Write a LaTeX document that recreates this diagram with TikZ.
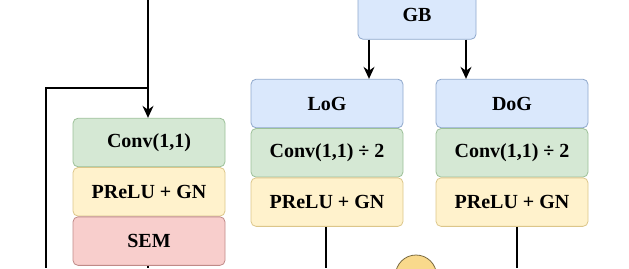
\documentclass[tikz,border=0pt]{standalone}
\usepackage{fontspec}
\setmainfont{Liberation Serif}
\usepackage{tikz}
\usetikzlibrary{arrows.meta, positioning}
\definecolor{bluefill}{HTML}{DAE8FC}
\definecolor{blueline}{HTML}{8FA8CC}
\definecolor{greenfill}{HTML}{D5E8D4}
\definecolor{greenline}{HTML}{9CC098}
\definecolor{yellowfill}{HTML}{FFF2CC}
\definecolor{yellowline}{HTML}{DCC68A}
\definecolor{redfill}{HTML}{F8CECC}
\definecolor{redline}{HTML}{C08A88}
\definecolor{opfill}{HTML}{F9D98C}
\definecolor{opline}{HTML}{7A6A40}

\begin{document}
\begin{tikzpicture}[
    x=1pt, y=-1pt,
    block/.style={
        rectangle, rounded corners=5pt, line width=0.8pt,
        minimum width=152pt, minimum height=48.5pt,
        inner sep=0pt, font=\fontsize{20}{22}\selectfont\bfseries
    },
    gauss/.style={block, fill=bluefill, draw=blueline},
    conv/.style={block, fill=greenfill, draw=greenline},
    act/.style={block, fill=yellowfill, draw=yellowline},
    sem/.style={block, fill=redfill, draw=redline},
    arr/.style={-{Stealth[length=12pt, width=11pt]}, line width=1.7pt},
    line/.style={line width=1.7pt},
    node distance=0pt
]
\clip (0,0) rectangle (629,268);

% GB
\node[gauss, minimum width=118pt] (gb) at (417,15) {GB};

% left branch
\node[conv] (conva) at (149,142.5) {Conv(1,1)};
\node[act, below=of conva] (acta) {PReLU + GN};
\node[sem, below=of acta] (sema) {SEM};

% LoG branch
\node[gauss] (log) at (327,103.5) {LoG};
\node[conv, below=of log] (convb) {Conv(1,1) ÷ 2};
\node[act, below=of convb] (actb) {PReLU + GN};

% DoG branch
\node[gauss] (dog) at (512,103.5) {DoG};
\node[conv, below=of dog] (convc) {Conv(1,1) ÷ 2};
\node[act, below=of convc] (actc) {PReLU + GN};

% operator
\node[circle, draw=opline, fill=opfill, line width=0.8pt,
      minimum size=41pt, inner sep=0pt] (op) at (416,275.5) {};

% free ends
\coordinate (in) at (148,0);
\coordinate (split) at (148,88);
\coordinate (skip) at (46,268);
\coordinate (outa) at (148,268);
\coordinate (outb) at (326,268);
\coordinate (outc) at (517,268);

% Arrows
\draw[arr] (in) -- (in |- conva.north);
\draw[line] (split) -| (skip);
\draw[line] (sema.south -| outa) -- (outa);
\draw[arr] ([xshift=-48pt]gb.south) -- ([xshift=-48pt]gb.south |- log.north);
\draw[arr] ([xshift=49pt]gb.south) -- ([xshift=49pt]gb.south |- dog.north);
\draw[line] (actb.south -| outb) -- (outb);
\draw[line] (actc.south -| outc) -- (outc);

\end{tikzpicture}
\end{document}
